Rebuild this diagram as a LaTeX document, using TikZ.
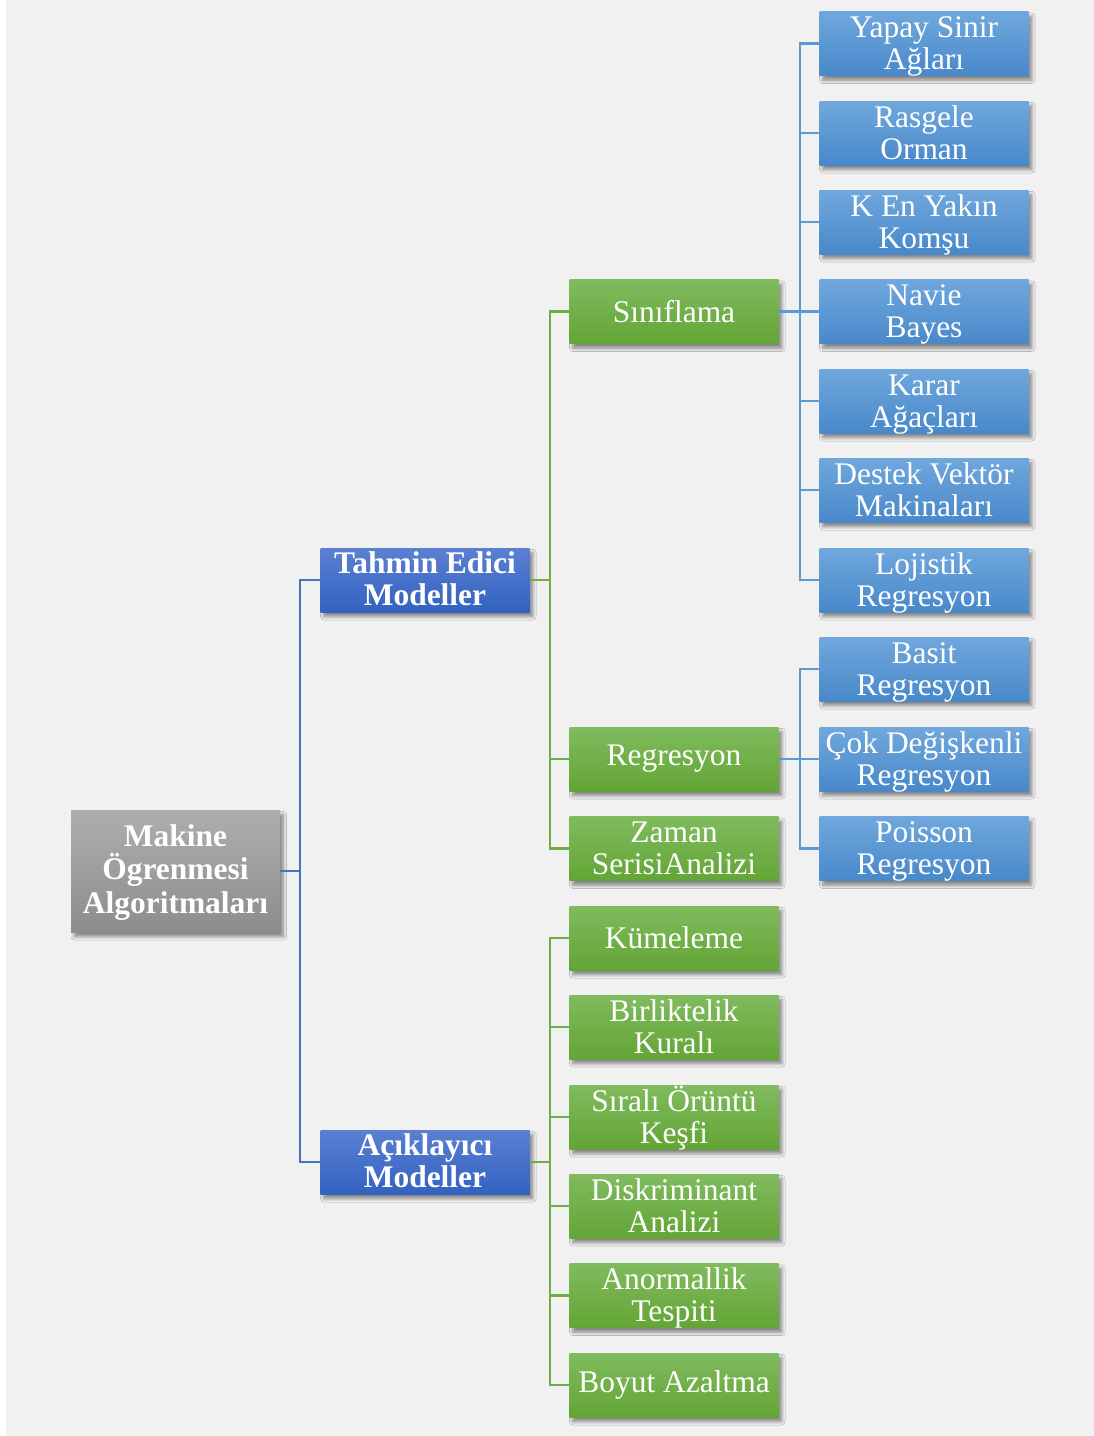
\documentclass[tikz,border=0pt]{standalone}
\usepackage{fontspec}
\setmainfont{Liberation Serif}
\usetikzlibrary{shadows.blur}

\definecolor{pagebg}{HTML}{F1F1F1}
\definecolor{greyTop}{HTML}{AEAEAE}
\definecolor{greyBot}{HTML}{8D8D8D}
\definecolor{navyTop}{HTML}{5B80D2}
\definecolor{navyBot}{HTML}{3262C0}
\definecolor{leafTop}{HTML}{80BB5E}
\definecolor{leafBot}{HTML}{63A535}
\definecolor{skyTop}{HTML}{70A8DD}
\definecolor{skyBot}{HTML}{4888CA}
\definecolor{linkNavy}{HTML}{4472C4}
\definecolor{linkLeaf}{HTML}{70AD47}
\definecolor{linkSky}{HTML}{5B9BD5}

\tikzset{
  box/.style={rectangle, inner sep=0pt, minimum width=156.75pt, minimum height=48pt,
    align=center, text=white, font=\fontsize{23.6}{24.2}\selectfont,
    blur shadow={shadow xshift=2.5pt, shadow yshift=-3.5pt, shadow blur steps=6,
      shadow blur radius=2.5pt, shadow opacity=45}},
  % fixed vertical placement of multi-line labels (baseline = last line)
  twolines/.style={text height=42.6pt, text depth=3pt},
  threelines/.style={text height=68pt, text depth=5pt},
  rootbox/.style={box, threelines, minimum height=91.5pt, top color=greyTop, bottom color=greyBot,
    font=\fontsize{23.6}{24.8}\selectfont\bfseries},
  midbox/.style={box, text height=42pt, text depth=4pt, top color=navyTop, bottom color=navyBot,
    font=\fontsize{23.6}{23.8}\selectfont\bfseries},
  catbox/.style={box, top color=leafTop, bottom color=leafBot},
  algbox/.style={box, twolines, top color=skyTop, bottom color=skyBot},
  lnavy/.style={draw=linkNavy, line width=2pt},
  lleaf/.style={draw=linkLeaf, line width=2pt},
  lsky/.style={draw=linkSky, line width=2pt},
}

\begin{document}
\begin{tikzpicture}[x=0.75pt, y=-0.75pt]
  % page background
  \fill[white] (0,0) rectangle (1094,1436);
  \fill[pagebg] (6,0) rectangle (1094,1436);
  \useasboundingbox (0,0) rectangle (1094,1436);

  % bus coordinates
  \coordinate (busA) at (300,871);
  \coordinate (busB) at (550,580);
  \coordinate (busC) at (550,1162);
  \coordinate (busD) at (800,311.5);
  \coordinate (busE) at (800,759);

  % level 1
  \node[rootbox] (root) at (175.5,871) {Makine\\Ögrenmesi\\Algoritmaları};

  % level 2
  \node[midbox] (tahmin) at (425,580) {Tahmin Edici\\Modeller};
  \node[midbox] (acik) at (425,1162) {Açıklayıcı\\Modeller};

  % level 3
  \node[catbox] (sinif) at (674,311.5) {Sınıflama};
  \node[catbox] (regr) at (674,759) {Regresyon};
  \node[catbox, twolines] (zaman) at (674,848.5) {Zaman\\SerisiAnalizi};
  \node[catbox] (kume) at (674,938) {Kümeleme};
  \node[catbox, twolines] (birl) at (674,1027) {Birliktelik\\Kuralı};
  \node[catbox, twolines] (sira) at (674,1117) {Sıralı Örüntü\\Keşfi};
  \node[catbox, twolines] (disk) at (674,1206) {Diskriminant\\Analizi};
  \node[catbox, twolines] (anor) at (674,1295.5) {Anormallik\\Tespiti};
  \node[catbox] (boyut) at (674,1385) {Boyut Azaltma};

  % level 4
  \node[algbox] (ysa) at (924,43.5) {Yapay Sinir\\Ağları};
  \node[algbox] (rorm) at (924,133) {Rasgele\\Orman};
  \node[algbox] (knn) at (924,222) {K En Yakın\\Komşu};
  \node[algbox] (nb) at (924,311.5) {Navie\\Bayes};
  \node[algbox] (ka) at (924,401) {Karar\\Ağaçları};
  \node[algbox] (dvm) at (924,490) {Destek Vektör\\Makinaları};
  \node[algbox] (lojr) at (924,580) {Lojistik\\Regresyon};
  \node[algbox] (basr) at (924,669) {Basit\\Regresyon};
  \node[algbox] (cokr) at (924,759) {Çok Değişkenli\\Regresyon};
  \node[algbox] (poir) at (924,848.5) {Poisson\\Regresyon};

  % connectors
  \draw[lnavy] (root.east) -- (busA);
  \draw[lnavy] (busA) |- (tahmin.west);
  \draw[lnavy] (busA) |- (acik.west);

  \draw[lleaf] (tahmin.east) -- (busB);
  \foreach \n in {sinif,regr,zaman} \draw[lleaf] (busB) |- (\n.west);
  \draw[lleaf] (acik.east) -- (busC);
  \foreach \n in {kume,birl,sira,disk,anor,boyut} \draw[lleaf] (busC) |- (\n.west);

  \draw[lsky] (sinif.east) -- (busD);
  \foreach \n in {ysa,rorm,knn,nb,ka,dvm,lojr} \draw[lsky] (busD) |- (\n.west);
  \draw[lsky] (regr.east) -- (busE);
  \foreach \n in {basr,cokr,poir} \draw[lsky] (busE) |- (\n.west);
\end{tikzpicture}
\end{document}
